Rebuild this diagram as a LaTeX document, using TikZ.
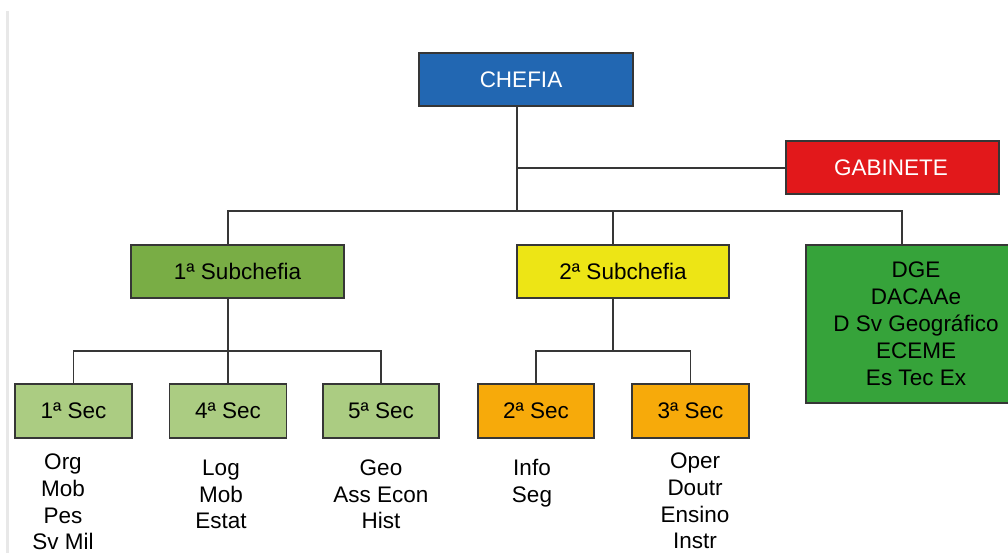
\documentclass[tikz,border=0pt]{standalone}
\usepackage{fontspec}
\setmainfont{Liberation Sans}
\definecolor{linec}{HTML}{363636}
\definecolor{cblue}{HTML}{2267B2}
\definecolor{cred}{HTML}{E2181B}
\definecolor{cdge}{HTML}{36A33A}
\definecolor{csub}{HTML}{79AD45}
\definecolor{cyel}{HTML}{EDE515}
\definecolor{csec}{HTML}{ABCC82}
\definecolor{corg}{HTML}{F7AA0A}
\definecolor{cleft}{HTML}{E8E8E8}
\begin{document}
\begin{tikzpicture}[x=1pt,y=-1pt,
  box/.style={draw=linec, line width=1.7pt, inner sep=0pt, align=center,
    font=\fontsize{22.5}{27}\selectfont},
  secbox/.style={box, minimum width=117pt, minimum height=54pt},
  subbox/.style={box, minimum width=213pt, minimum height=53pt},
  conn/.style={draw=linec, line width=1.7pt},
  lbl/.style={inner sep=0pt, align=center, font=\fontsize{22.5}{26.7}\selectfont}]
\useasboundingbox (0,0) rectangle (1008,553);
\fill[cleft] (6,11) rectangle (9,553);

% boxes
\node[box, fill=cblue, text=white, minimum width=214pt, minimum height=53pt] (chefia) at (526,79.5) {CHEFIA\hspace*{10pt}};
\node[box, fill=cred, text=white, minimum width=213pt, minimum height=53pt] (gab) at (892.5,167.5) {GABINETE\hspace*{3pt}};
\node[box, fill=cdge, minimum width=220pt, minimum height=158pt] (dge) at (916,324) {DGE\\DACAAe\\D Sv Geográfico\\ECEME\\Es Tec Ex};
\node[subbox, fill=csub] (sub1) at (237.5,271.5) {1ª Subchefia};
\node[subbox, fill=cyel, minimum width=212pt] (sub2) at (623,271.5) {2ª Subchefia};
\node[secbox, fill=csec] (s1) at (73.5,411) {1ª Sec};
\node[secbox, fill=csec] (s4) at (228,411) {4ª Sec};
\node[secbox, fill=csec, minimum width=116pt] (s5) at (381,411) {5ª Sec};
\node[secbox, fill=corg, minimum width=116pt] (s2) at (536,411) {2ª Sec};
\node[secbox, fill=corg] (s3) at (690.5,411) {3ª Sec};

% labels
\node[lbl] (l1) at (63,502) {Org\\Mob\\Pes\\Sv Mil};
\node[lbl] (l4) at (221,494.5) {Log\\Mob\\Estat};
\node[lbl] (l5) at (381,494.5) {Geo\\Ass Econ\\Hist};
\node[lbl] (l2) at (532,483.5) {Info\\Seg};
\node[lbl] (l3) at (695,501) {Oper\\Doutr\\Ensino\\Instr};

% junctions
\coordinate (bus) at (517,211);
\coordinate (gj) at (517,168);
\coordinate (j1) at (228,211);
\coordinate (j2) at (613,211);
\coordinate (j3) at (902,211);
\coordinate (k1) at (228,351);
\coordinate (k2) at (613,351);

% connectors
\draw[conn] (chefia.south -| bus) -- (bus);
\draw[conn] (gj) -- (gab.west |- gj);
\draw[conn] (j1 |- sub1.north) -- (j1) -- (j3) -- (j3 |- dge.north);
\draw[conn] (j2) -- (j2 |- sub2.north);
\draw[conn] (sub1.south -| k1) -- (k1) -- (s4.north);
\draw[conn] (s1.north) |- (k1) -| (s5.north);
\draw[conn] (sub2.south -| k2) -- (k2);
\draw[conn] (s2.north) |- (k2) -| (s3.north);
\end{tikzpicture}
\end{document}
